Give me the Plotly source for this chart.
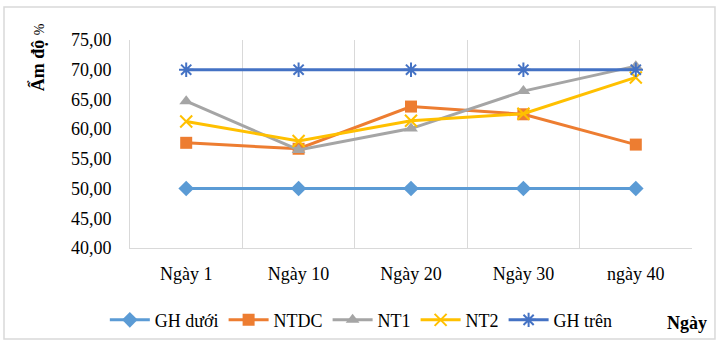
import plotly.graph_objects as go

categories = ["Ngày 1", "Ngày 10", "Ngày 20", "Ngày 30", "ngày 40"]
gh_duoi = [50.0, 50.0, 50.0, 50.0, 50.0]
ntdc = [57.7, 56.7, 63.8, 62.5, 57.4]
nt1 = [64.7, 56.5, 60.1, 66.4, 70.6]
nt2 = [61.3, 58.0, 61.4, 62.6, 68.7]
gh_tren = [70.0, 70.0, 70.0, 70.0, 70.0]
y_ticks = [40, 45, 50, 55, 60, 65, 70, 75]
y_ticktext = ["40,00", "45,00", "50,00", "55,00", "60,00", "65,00", "70,00", "75,00"]

FONT = "Liberation Serif"

series = [
    ("GH dưới", gh_duoi, "#5B9BD5", "diamond", 12, None),
    ("NTDC", ntdc, "#ED7D31", "square", 12, None),
    ("NT1", nt1, "#A5A5A5", "triangle-up", 12, None),
    ("NT2", nt2, "#FFC000", "x-thin-open", 12, 2),
    ("GH trên", gh_tren, "#4472C4", "asterisk-open", 12, 2),
]

fig = go.Figure()
for name, vals, color, sym, size, mlw in series:
    marker = dict(symbol=sym, size=size, color=color)
    if mlw:
        marker["line"] = dict(color=color, width=mlw)
    fig.add_trace(go.Scatter(
        x=categories, y=vals, name=name, mode="lines+markers",
        line=dict(color=color, width=3), marker=marker,
    ))

fig.update_layout(
    width=718, height=345,
    margin=dict(l=130, r=26, t=40, b=97, autoexpand=False),
    paper_bgcolor="white", plot_bgcolor="white",
    font=dict(family=FONT, size=18, color="black"),
    showlegend=True,
    legend=dict(
        orientation="h", xref="container", yref="container",
        x=0.146, xanchor="left", y=0.072, yanchor="middle",
        font=dict(family=FONT, size=18, color="black"),
        itemwidth=40, tracegroupgap=0, bgcolor="rgba(0,0,0,0)",
    ),
    xaxis=dict(
        type="category", tickson="boundaries", showgrid=True, gridcolor="#D9D9D9",
        gridwidth=1, showline=True, linecolor="#D9D9D9", linewidth=1,
        ticks="", ticklabelstandoff=9, range=[-0.5, 4.5],
        tickfont=dict(family=FONT, size=18, color="black"), zeroline=False,
    ),
    yaxis=dict(
        range=[40, 75], tickvals=y_ticks, ticktext=y_ticktext, showgrid=False,
        showline=True, linecolor="#D9D9D9", linewidth=1, ticks="",
        ticklabelstandoff=14, zeroline=False,
        tickfont=dict(family=FONT, size=18, color="black"),
    ),
)

fig.add_annotation(
    text="<b>Ẩm độ</b> <span style='font-size:14px'>%</span>",
    xref="paper", yref="paper", x=-0.165, y=0.918, textangle=-90,
    xanchor="center", yanchor="middle", showarrow=False,
    font=dict(family=FONT, size=18, color="black"),
)
fig.add_annotation(
    text="<b>Ngày</b>", xref="paper", yref="paper", x=0.991, y=-0.36,
    xanchor="center", yanchor="middle", showarrow=False,
    font=dict(family=FONT, size=18, color="black"),
)
fig.add_shape(
    type="rect", xref="paper", yref="paper",
    x0=-0.2242, x1=1.0409, y0=-0.4375, y1=1.1587,
    line=dict(color="#D9D9D9", width=1.5), fillcolor="rgba(0,0,0,0)", layer="below",
)

fig.write_html("out.html")
